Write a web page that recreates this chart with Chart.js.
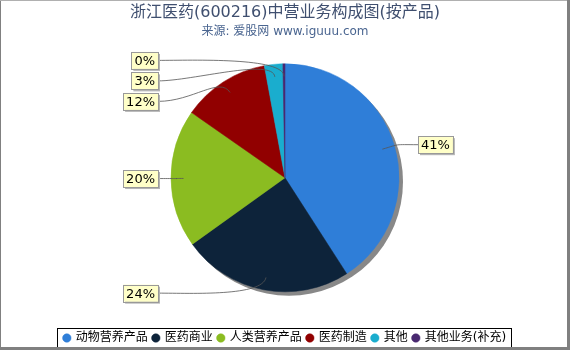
<!DOCTYPE html>
<html><head><meta charset="utf-8">
<script src="https://cdn.jsdelivr.net/npm/chart.js@4"></script>
<style>html,body{margin:0;padding:0;background:#fff}#wrap{width:570px;height:350px;position:relative}</style>
</head><body><div id="wrap"><canvas id="c" width="570" height="350"></canvas></div>
<script>
const titleText = '浙江医药(600216)中营业务构成图(按产品)';
const subtitleText = '来源: 爱股网 www.iguuu.com';
const categories = ['动物营养产品','医药商业','人类营养产品','医药制造','其他','其他业务(补充)'];
const values = [40.9, 24.2, 19.6, 12.4, 2.6, 0.3];
const pctLabels = ['41%','24%','20%','12%','3%','0%'];
const colors = ['#2f7ed8','#0d233a','#8bbc21','#910000','#1aadce','#492970'];
const FONT = "'DejaVu Sans','Noto Sans CJK SC',sans-serif";

const decor = {
  id: 'decor',
  beforeDatasetsDraw(chart) {
    const a = chart.getDatasetMeta(0).data[0];
    const ctx = chart.ctx;
    ctx.save();
    ctx.fillStyle = '#888';
    ctx.beginPath();
    ctx.arc(a.x + 4, a.y + 4, a.outerRadius, 0, Math.PI * 2);
    ctx.fill();
    ctx.restore();
  },
  afterDatasetsDraw(chart) {
    const ctx = chart.ctx;
    const arcs = chart.getDatasetMeta(0).data;
    const cx = arcs[0].x, cy = arcs[0].y, R = arcs[0].outerRadius;
    ctx.save();
    ctx.font = '13px ' + FONT;
    const recs = arcs.map((a, i) => {
      const mid = (a.startAngle + a.endAngle) / 2;
      return {i, mid, right: Math.cos(mid) >= 0, y: cy + Math.sin(mid) * R * 1.03};
    });
    const left = recs.filter(r => !r.right).sort((p, q) => p.y - q.y);
    for (let k = 1; k < left.length; k++) left[k].y = Math.max(left[k].y, left[k-1].y + 20.5);
    recs.forEach(r => {
      const text = pctLabels[r.i];
      const tw = ctx.measureText(text).width;
      const bw = tw + 6, bh = 17;
      let bx, ex;
      if (r.right) { bx = cx + R + 19; ex = bx; }
      else { bx = cx - R - 13 - bw; ex = bx + bw; }
      const by = r.y - bh / 2;
      const sx = cx + Math.cos(r.mid) * R * 0.89, sy = cy + Math.sin(r.mid) * R * 0.89;
      const c1x = cx + Math.cos(r.mid) * R * 1.06, c1y = cy + Math.sin(r.mid) * R * 1.06;
      const c2x = ex + (r.right ? -25 : 35);
      ctx.strokeStyle = '#555';
      ctx.lineWidth = 0.8;
      ctx.beginPath();
      ctx.moveTo(sx, sy);
      ctx.bezierCurveTo(c1x, c1y, c2x, r.y, ex, r.y);
      ctx.stroke();
      ctx.fillStyle = '#b4b4b4';
      ctx.fillRect(bx + 2, by + 2, bw, bh);
      ctx.fillStyle = '#ffffc8';
      ctx.fillRect(bx, by, bw, bh);
      ctx.strokeStyle = '#999';
      ctx.lineWidth = 1;
      ctx.strokeRect(Math.round(bx) + 0.5, Math.round(by) + 0.5, Math.round(bw), bh);
      ctx.fillStyle = '#000';
      ctx.textBaseline = 'middle';
      ctx.textAlign = 'left';
      ctx.fillText(text, bx + 3, r.y + 1);
    });
    ctx.restore();
  },
  afterDraw(chart) {
    const ctx = chart.ctx;
    const lg = chart.legend;
    const hb = lg.legendHitBoxes;
    let l = Infinity, rt = -Infinity, tp = Infinity, bt = -Infinity;
    hb.forEach(h => { l = Math.min(l, h.left); rt = Math.max(rt, h.left + h.width); tp = Math.min(tp, h.top); bt = Math.max(bt, h.top + h.height); });
    const mid = (tp + bt) / 2;
    ctx.save();
    ctx.strokeStyle = '#000';
    ctx.lineWidth = 1;
    const L = Math.round(l - 7), T = Math.round(mid - 10), W = Math.round(rt - l + 12), H = 21;
    ctx.strokeRect(L + 0.5, T + 0.5, W, H);
    ctx.fillStyle = '#808080';
    ctx.fillRect(0, 0, 1, 350);
    ctx.fillStyle = '#b0b0b0';
    ctx.fillRect(0, 0, 570, 1);
    ctx.fillStyle = '#808080';
    ctx.fillRect(567, 0, 3, 350);
    ctx.fillRect(0, 347, 570, 3);
    ctx.restore();
  }
};

new Chart(document.getElementById('c'), {
  type: 'pie',
  data: {
    labels: categories,
    datasets: [{
      data: values,
      backgroundColor: colors,
      borderColor: colors,
      borderWidth: 0.5,
      radius: 114
    }]
  },
  options: {
    responsive: false,
    animation: false,
    layout: {padding: {top: 0, bottom: -4, left: 0, right: 0}},
    plugins: {
      title: {display: true, text: titleText, color: '#3f4f6f', font: {family: FONT, size: 16, weight: 'normal'}, padding: {top: 3, bottom: 2}},
      subtitle: {display: true, text: subtitleText, color: '#4a6590', font: {family: FONT, size: 12}, padding: {top: 0, bottom: -10}},
      legend: {
        position: 'bottom',
        labels: {usePointStyle: true, pointStyle: 'circle', boxWidth: 6, boxHeight: 6, padding: 5, color: '#000', font: {family: FONT, size: 12}}
      },
      tooltip: {enabled: false}
    }
  },
  plugins: [decor]
});
</script></body></html>
